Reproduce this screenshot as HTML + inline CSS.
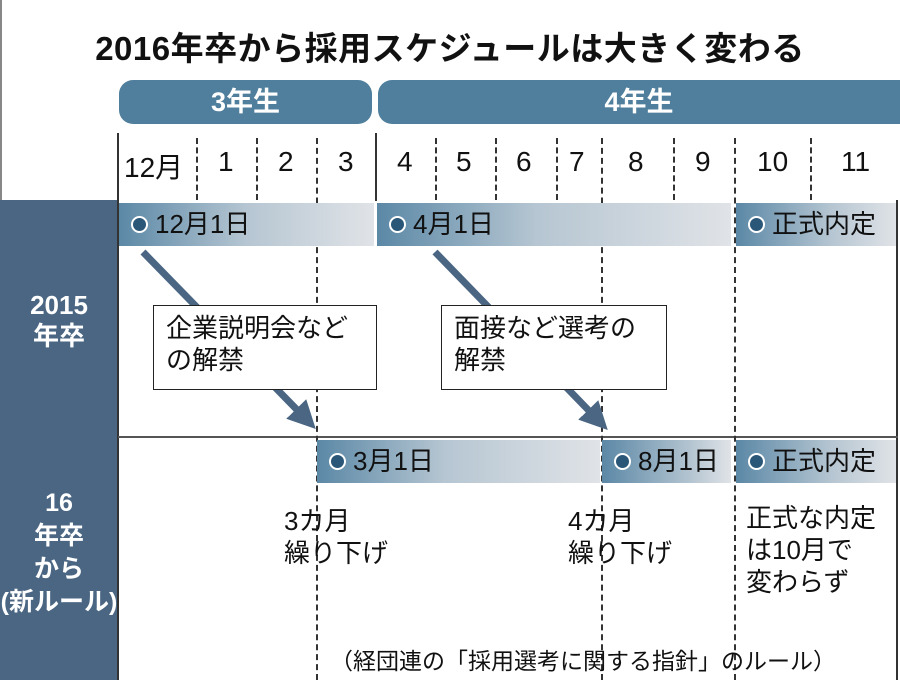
<!DOCTYPE html>
<html><head><meta charset="utf-8"><style>
body{margin:0;}
#c{position:relative;width:900px;height:680px;background:#fff;overflow:hidden;font-family:"Liberation Sans","Noto Sans CJK JP",sans-serif;color:#111;}
.a{position:absolute;}
.pill{position:absolute;background:#4f7f9c;border-radius:14px;color:#fff;font-weight:bold;font-size:27px;text-align:center;line-height:44px;height:44px;top:80px;}
.m{position:absolute;top:146px;font-size:28px;}
.dl{position:absolute;width:0;border-left:2px dashed #333;}
.bar{position:absolute;height:43px;font-size:26px;line-height:43px;padding-left:36px;box-sizing:border-box;}
.bar:before{content:"";position:absolute;left:12px;top:13px;width:13px;height:13px;border-radius:50%;background:#2a5678;border:2px solid #fff;}
.t{position:absolute;font-size:26px;line-height:32px;}
.lb{position:absolute;left:0;width:118px;text-align:center;color:#fff;font-weight:bold;font-size:26px;line-height:31px;}
</style></head><body><div id="c">
<div class="a" style="left:0;top:0;width:2px;height:680px;background:#888"></div>
<div class="a" style="left:0;top:22px;width:900px;text-align:center;font-size:33px;font-weight:bold;letter-spacing:0.5px">2016年卒から採用スケジュールは大きく変わる</div>
<div class="pill" style="left:119px;width:253px;">3年生</div>
<div class="pill" style="left:378px;width:522px;border-radius:14px 0 0 14px;">4年生</div>
<div class="a" style="left:0;top:200px;width:118px;height:480px;background:#4a6683"></div>
<div class="a" style="left:117px;top:133px;width:2px;height:547px;background:#333"></div>
<div class="a" style="left:375px;top:133px;width:2px;height:68px;background:#333"></div>
<div class="a" style="left:896px;top:200px;width:2px;height:480px;background:#333"></div>
<div class="a" style="left:118px;top:436px;width:780px;height:2px;background:#555"></div>
<div class="dl" style="left:196px;top:138px;height:62px"></div>
<div class="dl" style="left:256px;top:138px;height:62px"></div>
<div class="dl" style="left:316px;top:138px;height:542px"></div>
<div class="dl" style="left:435px;top:138px;height:62px"></div>
<div class="dl" style="left:495px;top:138px;height:62px"></div>
<div class="dl" style="left:556px;top:138px;height:62px"></div>
<div class="dl" style="left:601px;top:138px;height:542px"></div>
<div class="dl" style="left:673px;top:138px;height:62px"></div>
<div class="dl" style="left:734px;top:138px;height:542px"></div>
<div class="dl" style="left:810px;top:138px;height:62px"></div>
<div class="m" style="left:124px">12月</div><div class="m" style="left:218px">1</div><div class="m" style="left:278px">2</div><div class="m" style="left:338px">3</div><div class="m" style="left:397px">4</div><div class="m" style="left:456px">5</div><div class="m" style="left:516px">6</div><div class="m" style="left:569px">7</div><div class="m" style="left:628px">8</div><div class="m" style="left:695px">9</div><div class="m" style="left:757px">10</div><div class="m" style="left:841px">11</div>
<div class="bar" style="left:119px;top:203px;width:255px;background:linear-gradient(90deg,#5b88a6 0%,#b6c6d2 50%,#e0e3e7 100%)">12月1日</div>
<div class="bar" style="left:377px;top:203px;width:354px;background:linear-gradient(90deg,#5b88a6 0%,#b6c6d2 45%,#e0e3e7 100%)">4月1日</div>
<div class="bar" style="left:736px;top:203px;width:160px;background:linear-gradient(90deg,#5b88a6 0%,#b6c6d2 60%,#e0e3e7 100%)">正式内定</div>
<div class="bar" style="left:317px;top:440px;width:283px;background:linear-gradient(90deg,#5b88a6 0%,#b6c6d2 45%,#e0e3e7 100%)">3月1日</div>
<div class="bar" style="left:602px;top:440px;width:129px;background:linear-gradient(90deg,#5b88a6 0%,#b6c6d2 70%,#e0e3e7 100%)">8月1日</div>
<div class="bar" style="left:736px;top:440px;width:160px;background:linear-gradient(90deg,#5b88a6 0%,#b6c6d2 60%,#e0e3e7 100%)">正式内定</div>
<svg class="a" style="left:0;top:0" width="900" height="680">
<defs><marker id="ar" markerWidth="4" markerHeight="4" refX="2" refY="2" orient="auto"><path d="M0,0 L4,2 L0,4 z" fill="#4a6683"/></marker></defs>
<line x1="143" y1="252" x2="306" y2="419" stroke="#4a6683" stroke-width="7" marker-end="url(#ar)"/>
<line x1="435" y1="252" x2="598" y2="420" stroke="#4a6683" stroke-width="7" marker-end="url(#ar)"/>
</svg>
<div class="a" style="left:153px;top:305px;width:224px;height:85px;border:1.5px solid #222;background:#fff;box-sizing:border-box"></div>
<div class="t" style="left:166px;top:312px;">企業説明会など<br>の解禁</div>
<div class="a" style="left:441px;top:305px;width:226px;height:85px;border:1.5px solid #222;background:#fff;box-sizing:border-box"></div>
<div class="t" style="left:454px;top:312px;">面接など選考の<br>解禁</div>
<div class="lb" style="top:290px">2015<br>年卒</div>
<div class="lb" style="top:487px;line-height:33px;font-size:25px">16<br>年卒<br>から<br>(新ルール)</div>
<div class="t" style="left:284px;top:505px;">3カ月<br>繰り下げ</div>
<div class="t" style="left:568px;top:505px;">4カ月<br>繰り下げ</div>
<div class="t" style="left:746px;top:502px;">正式な内定<br>は10月で<br>変わらず</div>
<div class="a" style="left:330px;top:642px;font-size:23px;">（経団連の「採用選考に関する指針」のルール）</div>
</div></body></html>
